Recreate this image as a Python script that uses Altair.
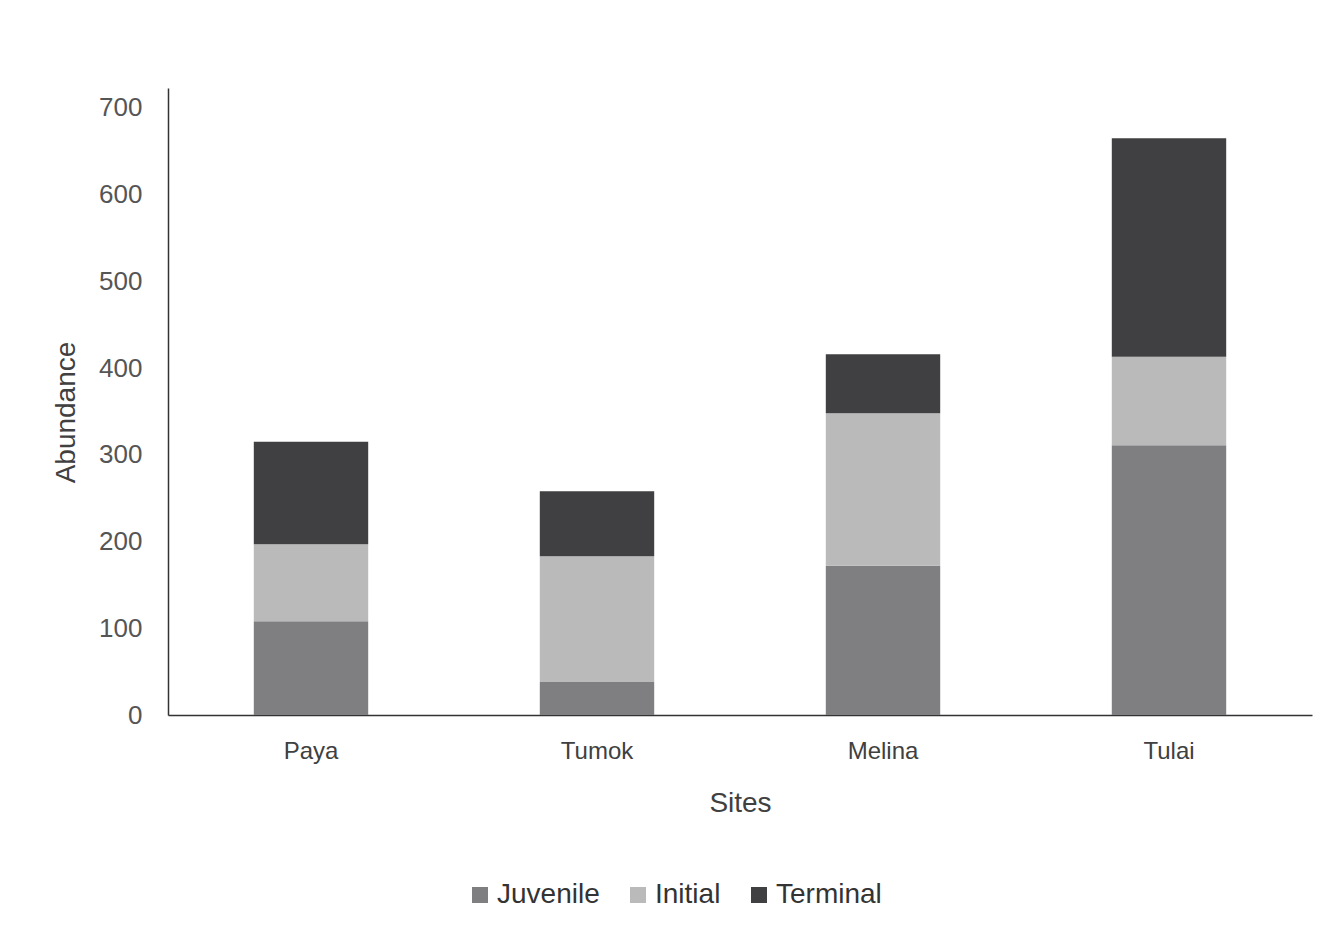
import altair as alt
import pandas as pd

sites = ["Paya", "Tumok", "Melina", "Tulai"]
stages = ["Juvenile", "Initial", "Terminal"]
juvenile = [108, 38, 172, 311]
initial = [89, 145, 176, 102]
terminal = [118, 75, 68, 252]
colors = ["#7f7e80", "#bbbabb", "#403f41"]

rows = []
for i, s in enumerate(sites):
    for k, (stage, vals) in enumerate(zip(stages, [juvenile, initial, terminal])):
        rows.append({"Site": s, "Stage": stage, "Abundance": vals[i], "order": k})
df = pd.DataFrame(rows)

font = "Liberation Sans"

chart = alt.Chart(df).mark_bar().encode(
    x=alt.X("Site:N", sort=sites, title="Sites",
            scale=alt.Scale(paddingInner=0.6, paddingOuter=0.3),
            axis=alt.Axis(labelAngle=0, ticks=False, labelPadding=24, titlePadding=26,
                          labelFontSize=24, titleFontSize=28, labelColor="#404040",
                          titleColor="#404040", domainColor="#333", domainWidth=1.5,
                          labelFont=font, titleFont=font, titleFontWeight="normal")),
    y=alt.Y("Abundance:Q", title="Abundance",
            scale=alt.Scale(domain=[0, 723], nice=False),
            axis=alt.Axis(values=[0, 100, 200, 300, 400, 500, 600, 700], ticks=False,
                          grid=False, labelPadding=26, titleX=-88, titleY=324,
                          labelFontSize=26, titleFontSize=28, labelColor="#555",
                          titleColor="#404040", domainColor="#333", domainWidth=1.5,
                          labelFont=font, titleFont=font, titleFontWeight="normal")),
    color=alt.Color("Stage:N", sort=stages,
                    scale=alt.Scale(domain=stages, range=colors),
                    legend=alt.Legend(title=None, orient="none", direction="horizontal",
                                      legendX=298, legendY=793, symbolType="square",
                                      symbolSize=256, symbolStrokeWidth=0,
                                      labelFontSize=28, labelColor="#333", labelFont=font,
                                      columnPadding=24, labelOffset=3)),
    order=alt.Order("order:Q", sort="ascending"),
).properties(
    width=1144, height=627,
    padding={"left": 160, "top": 80, "right": 12, "bottom": 200},
    autosize=alt.AutoSizeParams(type="none"),
    background="white",
).configure_view(strokeWidth=0)

chart.save("out.html", embed_options={"renderer": "svg", "actions": False})
